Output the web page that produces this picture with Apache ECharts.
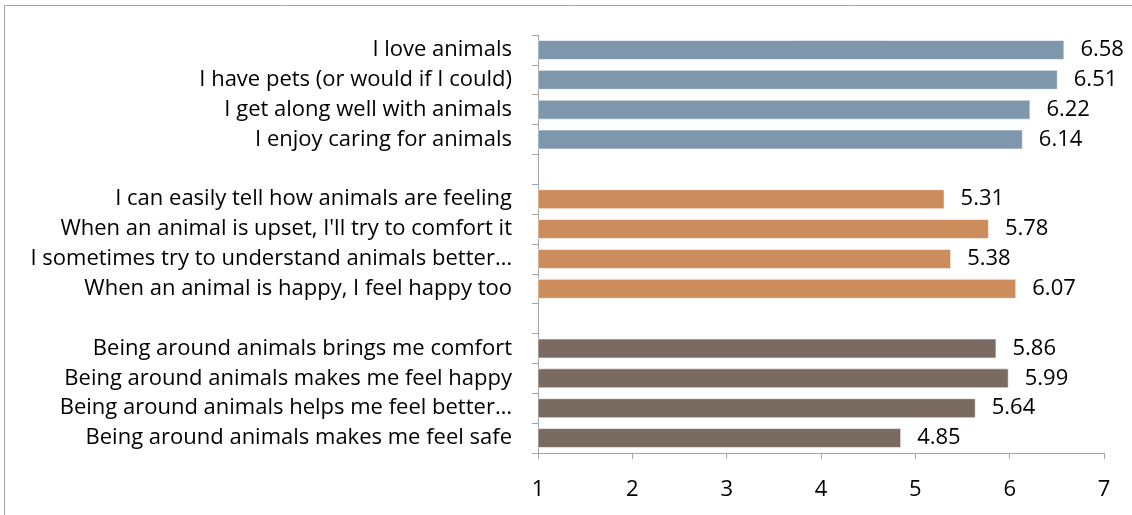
<!DOCTYPE html>
<html><head><meta charset="utf-8">
<script src="https://cdn.jsdelivr.net/npm/echarts@6/dist/echarts.min.js"></script>
<style>html,body{margin:0;padding:0;background:#fff}#c{width:1132px;height:515px}</style>
</head><body><div id="c"></div>
<script>
const categories = [
  "I love animals",
  "I have pets (or would if I could)",
  "I get along well with animals",
  "I enjoy caring for animals",
  "",
  "I can easily tell how animals are feeling",
  "When an animal is upset, I'll try to comfort it",
  "I sometimes try to understand animals better…",
  "When an animal is happy, I feel happy too",
  " ",
  "Being around animals brings me comfort",
  "Being around animals makes me feel happy",
  "Being around animals helps me feel better…",
  "Being around animals makes me feel safe"
];
const values = [6.58, 6.51, 6.22, 6.14, null, 5.31, 5.78, 5.38, 6.07, null, 5.86, 5.99, 5.64, 4.85];
const groups = [0,0,0,0,-1,1,1,1,1,-1,2,2,2,2];
const groupColors = ["#7f97ad", "#cd8c5c", "#7a6a5f"];
const xTicks = [1,2,3,4,5,6,7];

const chart = echarts.init(document.getElementById('c'));
const font = '"Open Sans", sans-serif';
chart.setOption({
  animation: false,
  graphic: [{type:'rect', shape:{x:4.5,y:5.5,width:1300,height:700}, style:{fill:'none', stroke:'#a6a6a6', lineWidth:1}}],
  grid: {left: 538, right: 28, top: 35, bottom: 62},
  xAxis: {
    type: 'value', min: xTicks[0], max: xTicks[xTicks.length-1], interval: 1,
    axisLine: {show: true, lineStyle: {color: '#a6a6a6'}},
    axisTick: {show: true, length: 6, lineStyle: {color: '#a6a6a6'}},
    splitLine: {show: false},
    axisLabel: {color: '#000', fontSize: 22, fontFamily: font, margin: 26}
  },
  yAxis: {
    type: 'category', inverse: true, data: categories,
    axisLine: {show: true, lineStyle: {color: '#a6a6a6'}},
    axisTick: {show: true, length: 6, lineStyle: {color: '#a6a6a6'}},
    axisLabel: {color: '#000', fontSize: 22, fontFamily: font, margin: 26, padding: [3, 0, 0, 0]}
  },
  series: [{
    type: 'bar', barWidth: 20,
    data: values,
    itemStyle: {
      color: p => groupColors[groups[p.dataIndex]] || '#fff',
      borderColor: 'rgba(255,255,255,0.6)', borderWidth: 1
    },
    label: {show: true, position: 'right', distance: 16, color: '#000', fontSize: 22, fontFamily: font,
      padding: [3, 0, 0, 0],
      formatter: p => p.value == null ? '' : p.value.toFixed(2)}
  }]
});
</script></body></html>
